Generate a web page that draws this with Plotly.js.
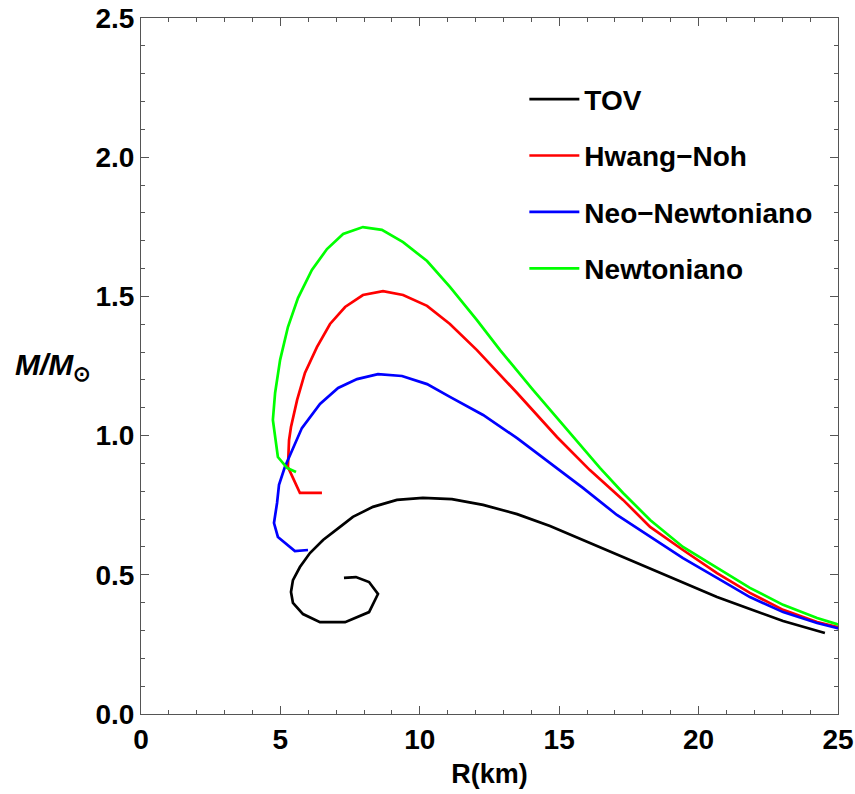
<!DOCTYPE html>
<html>
<head>
<meta charset="utf-8">
<script src="https://cdn.plot.ly/plotly-3.0.1.min.js"></script>
<style>body{margin:0;background:#fff;}#chart{width:855px;height:794px;}</style>
</head>
<body>
<div id="chart"></div>
<script>
const seriesNames = ["TOV", "Hwang\u2212Noh", "Neo\u2212Newtoniano", "Newtoniano"];
const seriesColors = ["#000000", "#ff0000", "#0000ff", "#00ff00"];

const tovR = [7.28,7.71,8.18,8.50,8.18,7.32,6.42,5.81,5.45,5.38,5.45,5.70,6.06,6.53,7.14,7.60,8.32,9.18,10.11,11.15,12.27,13.49,14.67,15.85,17.07,18.26,19.44,20.66,21.84,23.03,24.53];
const tovM = [0.489,0.492,0.474,0.431,0.366,0.330,0.330,0.359,0.399,0.438,0.481,0.528,0.578,0.625,0.672,0.708,0.744,0.769,0.776,0.772,0.751,0.718,0.675,0.625,0.571,0.521,0.471,0.420,0.377,0.334,0.291];

const hnR = [6.49,5.70,5.45,5.27,5.31,5.38,5.60,5.88,6.31,6.78,7.32,7.96,8.68,9.40,10.26,11.08,12.05,13.49,14.92,16.10,17.29,18.26,19.44,20.66,21.84,23.03,24.25,24.96,25.3];
const hnM = [0.794,0.794,0.848,0.887,0.984,1.031,1.128,1.225,1.318,1.401,1.462,1.505,1.519,1.505,1.466,1.401,1.307,1.153,0.995,0.876,0.769,0.672,0.589,0.506,0.435,0.374,0.330,0.313,0.305];

const nnR = [5.99,5.52,4.91,4.77,4.88,4.95,5.16,5.52,5.77,6.42,7.07,7.75,8.50,9.36,10.26,11.08,12.27,13.49,14.67,15.85,17.07,18.26,19.44,20.66,21.84,23.03,24.25,24.96,25.3];
const nnM = [0.589,0.585,0.636,0.686,0.758,0.823,0.887,0.973,1.027,1.114,1.171,1.203,1.221,1.214,1.185,1.139,1.074,0.991,0.902,0.812,0.715,0.636,0.560,0.489,0.420,0.366,0.327,0.309,0.300];

const nwR = [5.56,5.24,4.91,4.73,4.81,4.99,5.27,5.63,6.13,6.67,7.25,7.96,8.64,9.40,10.26,11.08,12.05,12.88,14.06,15.28,16.46,17.29,18.26,19.44,20.66,21.84,23.03,24.25,24.96,25.3];
const nwM = [0.869,0.884,0.923,1.056,1.153,1.272,1.390,1.494,1.595,1.670,1.724,1.749,1.739,1.695,1.627,1.534,1.415,1.307,1.164,1.020,0.884,0.794,0.697,0.600,0.524,0.453,0.392,0.345,0.323,0.314];

const xs = [tovR, hnR, nnR, nwR];
const ys = [tovM, hnM, nnM, nwM];

const traces = seriesNames.map((n, i) => ({
  x: xs[i], y: ys[i], name: n, mode: 'lines', type: 'scatter',
  line: {color: seriesColors[i], width: 2.7},
  legendgroup: 'g' + i
}));

const fam = 'Liberation Sans, Arial, sans-serif';
const fnt = {family: fam, size: 28, color: '#000', weight: 'bold'};
const axisCommon = {
  showgrid: false, zeroline: false, showline: true, linecolor: '#555', linewidth: 1,
  mirror: 'ticks', ticks: 'inside', ticklen: 8, tickcolor: '#555', tickwidth: 1,
  tickfont: fnt
};

const layout = {
  width: 855, height: 794,
  margin: {l: 141, r: 17, t: 18, b: 80},
  paper_bgcolor: '#fff', plot_bgcolor: '#fff',
  showlegend: true,
  legend: {
    x: 0.55, y: 0.919, xanchor: 'left', yanchor: 'top',
    font: {family: fam, size: 28, color: '#000', weight: 'bold'},
    traceorder: 'grouped', tracegroupgap: 17, bgcolor: 'rgba(0,0,0,0)', itemwidth: 50
  },
  xaxis: Object.assign({}, axisCommon, {
    range: [0, 25], dtick: 5, tick0: 0,
    minor: {dtick: 1, ticks: 'inside', ticklen: 4, tickcolor: '#555'},
    title: {text: 'R(km)', font: {family: fam, size: 27, color: '#000', weight: 'bold'}, standoff: 10}
  }),
  yaxis: Object.assign({}, axisCommon, {
    range: [0, 2.5], dtick: 0.5, tick0: 0, tickformat: '.1f',
    minor: {dtick: 0.1, ticks: 'inside', ticklen: 4, tickcolor: '#555'}
  }),
  annotations: [{
    xref: 'paper', yref: 'paper', x: -0.126, y: 0.499, xanchor: 'center', yanchor: 'middle',
    showarrow: false,
    text: '<i>M/M</i><sub>\u2299</sub>',
    font: {family: fam, size: 30, color: '#000', weight: 'bold'}
  }]
};

Plotly.newPlot('chart', traces, layout, {displayModeBar: false, staticPlot: true});
</script>
</body>
</html>
